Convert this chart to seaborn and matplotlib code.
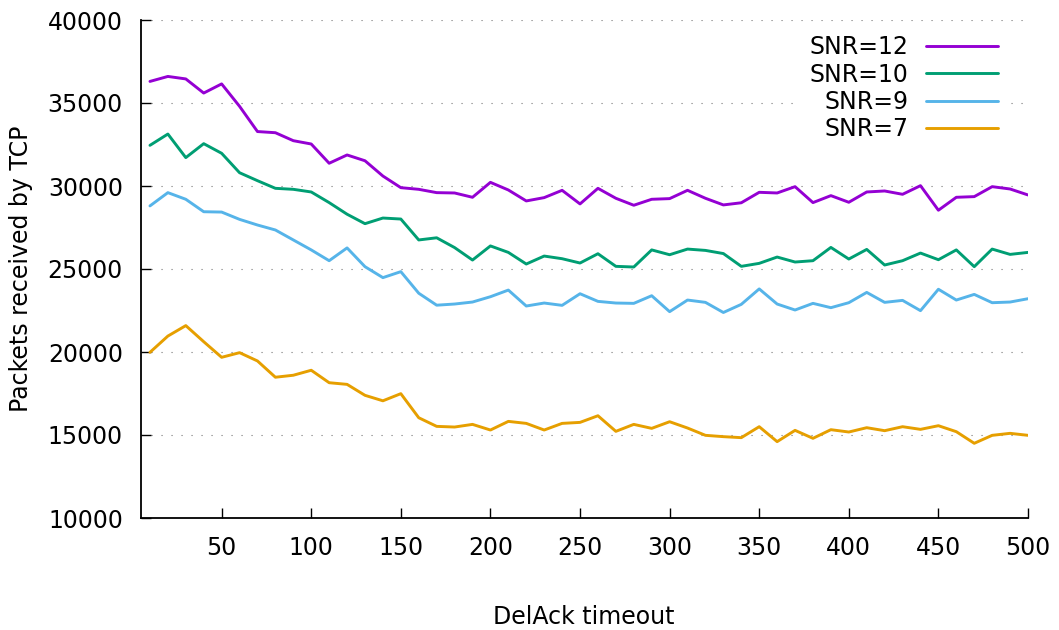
import matplotlib
matplotlib.use("Agg")
import matplotlib.pyplot as plt
import seaborn as sns
import pandas as pd
import numpy as np

# データ
timeout = np.arange(10, 510, 10)
snr12 = [36300, 36600, 36450, 35600, 36150, 34800, 33280, 33210, 32730, 32530,
         31370, 31870, 31520, 30600, 29900, 29800, 29600, 29580, 29320, 30220,
         29760, 29100, 29300, 29740, 28920, 29860, 29260, 28840, 29200, 29240,
         29740, 29260, 28860, 28990, 29620, 29580, 29960, 29000, 29420, 29020,
         29640, 29700, 29500, 30020, 28540, 29320, 29360, 29960, 29820, 29460]
snr10 = [32450, 33130, 31710, 32550, 31970, 30800, 30320, 29860, 29800, 29640,
         29000, 28300, 27730, 28070, 28010, 26750, 26880, 26290, 25540, 26390,
         26000, 25300, 25780, 25620, 25360, 25920, 25160, 25120, 26150, 25860,
         26200, 26120, 25930, 25160, 25340, 25720, 25420, 25500, 26300, 25600,
         26180, 25240, 25500, 25960, 25560, 26150, 25140, 26200, 25880, 26000]
snr9 = [28800, 29600, 29200, 28450, 28430, 27990, 27650, 27350, 26750, 26150,
        25500, 26270, 25140, 24480, 24840, 23540, 22820, 22890, 23010, 23330,
        23730, 22770, 22950, 22810, 23510, 23050, 22950, 22930, 23390, 22430,
        23130, 22990, 22380, 22870, 23800, 22890, 22530, 22930, 22670, 22970,
        23590, 22990, 23110, 22490, 23780, 23130, 23470, 22970, 23010, 23210]
snr7 = [19980, 20960, 21590, 20620, 19680, 19960, 19460, 18480, 18600, 18900,
        18150, 18050, 17390, 17060, 17490, 16040, 15520, 15480, 15640, 15300,
        15820, 15700, 15300, 15700, 15760, 16160, 15220, 15640, 15400, 15800,
        15420, 14980, 14900, 14840, 15500, 14600, 15280, 14800, 15320, 15180,
        15440, 15260, 15500, 15340, 15560, 15200, 14500, 14980, 15100, 14980]

labels = ["SNR=12", "SNR=10", "SNR=9", "SNR=7"]
colors = ["#9400d3", "#009e73", "#56b4e9", "#e69f00"]

df = pd.concat([
    pd.DataFrame({"timeout": timeout, "packets": vals, "snr": lab})
    for vals, lab in zip([snr12, snr10, snr9, snr7], labels)
])

sns.set_theme(style="white")
plt.rcParams['font.family'] = ['DejaVu Sans']
plt.rcParams['text.color'] = 'black'
plt.rcParams['axes.labelcolor'] = 'black'
plt.rcParams['xtick.color'] = 'black'
plt.rcParams['ytick.color'] = 'black'

fig = plt.figure(figsize=(10.59, 6.30), dpi=100)
ax = fig.add_axes([141 / 1059, 1 - 518 / 630, 887 / 1059, 498 / 630])

sns.lineplot(data=df, x="timeout", y="packets", hue="snr", hue_order=labels,
             palette=colors, linewidth=2.1, ax=ax)

ax.set_xlim(5, 500)
ax.set_ylim(10000, 40000)
ax.set_xticks(np.arange(50, 501, 50))
ax.set_yticks(np.arange(10000, 40001, 5000))
ax.yaxis.grid(True, linestyle=(0, (1, 8)), color="#777777", linewidth=0.8)
ax.xaxis.grid(False)

for side in ["top", "right"]:
    ax.spines[side].set_visible(False)
for side in ["left", "bottom"]:
    ax.spines[side].set_color("black")
    ax.spines[side].set_linewidth(1.3)

ax.tick_params(axis="both", direction="in", length=7, width=1, color="black",
               labelcolor="black", labelsize=17, pad=13, left=True, bottom=True)
ax.set_xlabel("")
ax.set_ylabel("")

fig.text(21 / 1059, 1 - 269 / 630, "Packets received by TCP", rotation=90,
         ha="center", va="center", fontsize=17, color="black")
fig.text(584 / 1059, 1 - 624 / 630, "DelAck timeout", ha="center",
         va="baseline", fontsize=17, color="black")

leg = ax.legend(loc="upper right", bbox_to_anchor=(0.977, 0.988),
                markerfirst=False, fontsize=17, handlelength=3.05,
                handletextpad=0.76, labelspacing=0.135, borderpad=0.4,
                borderaxespad=0, frameon=True, fancybox=False)
leg.get_frame().set_facecolor("white")
leg.get_frame().set_edgecolor("none")
leg.get_frame().set_alpha(1)
for t in leg.get_texts():
    t.set_color("black")

fig.savefig("out.png", dpi=100)
